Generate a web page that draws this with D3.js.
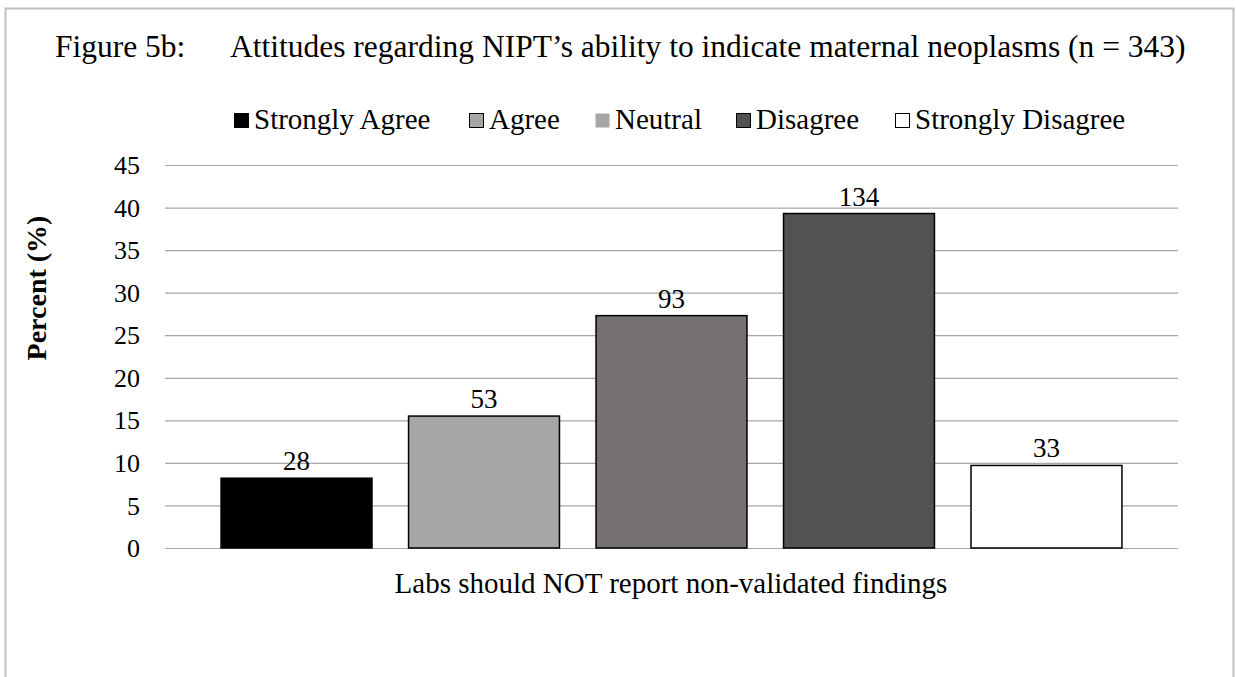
<!DOCTYPE html>
<html><head><meta charset="utf-8">
<script src="https://cdn.jsdelivr.net/npm/d3@7"></script>
<style>body{margin:0;background:#fff}svg{display:block;font-family:"Liberation Serif","Times New Roman",serif}</style>
</head><body>
<svg id="c" width="1236" height="677"></svg>
<script>
const categories = ["Strongly Agree","Agree","Neutral","Disagree","Strongly Disagree"];
const percents = [8.2, 15.5, 27.3, 39.3, 9.7];
const counts = [28, 53, 93, 134, 33];
const barColors = ["#000000","#A6A6A6","#767171","#525252","#FFFFFF"];
const legendColors = ["#000000","#A6A6A6","#A6A6A6","#525252","#FFFFFF"];
const yTicks = [0,5,10,15,20,25,30,35,40,45];
const groupLabel = "Labs should NOT report non-validated findings";
const titleLead = "Figure 5b:";
const titleMain = "Attitudes regarding NIPT\u2019s ability to indicate maternal neoplasms (n = 343)";

const svg = d3.select("#c");
svg.append("rect").attr("x",5.5).attr("y",8.5).attr("width",1228).attr("height",700)
  .attr("fill","none").attr("stroke","#BFBFBF").attr("stroke-width",2);

const L=165,R=1178,T=165,B=548;
const x = d3.scaleBand().domain(categories).range([L,R]).paddingInner(0.195).paddingOuter(0.299);
const y = d3.scaleLinear().domain([0,45]).range([B,T]);

svg.append("text").attr("x",55).attr("y",57).attr("font-size",31.5).text(titleLead);
svg.append("text").attr("x",230).attr("y",57).attr("font-size",31.5).text(titleMain);

// grid
const g = svg.append("g");
g.selectAll("line.grid").data(yTicks).join("line")
  .attr("x1",L).attr("x2",R).attr("y1",d=>y(d)+0.5).attr("y2",d=>y(d)+0.5)
  .attr("stroke","#A6A6A6").attr("stroke-width",1.2);
g.selectAll("text.tick").data(yTicks).join("text")
  .attr("x",140).attr("y",d=>y(d)).attr("dy","0.35em").attr("text-anchor","end")
  .attr("font-size",26).text(d=>d);

// bars
const data = categories.map((c,i)=>({c,p:percents[i],n:counts[i],col:barColors[i]}));
g.selectAll("rect.bar").data(data).join("rect")
  .attr("x",d=>x(d.c)).attr("width",x.bandwidth())
  .attr("y",d=>y(d.p)).attr("height",d=>y(0)-y(d.p))
  .attr("fill",d=>d.col).attr("stroke","#000").attr("stroke-width",1.5);
g.selectAll("text.lab").data(data).join("text")
  .attr("x",d=>x(d.c)+x.bandwidth()/2).attr("y",d=>y(d.p)-8)
  .attr("text-anchor","middle").attr("font-size",27).text(d=>d.n);

// axis labels
svg.append("text").attr("x",671).attr("y",593).attr("text-anchor","middle").attr("font-size",29).text(groupLabel);
svg.append("text").attr("transform","translate(46,288) rotate(-90)").attr("text-anchor","middle")
  .attr("font-size",28).attr("font-weight","bold").text("Percent (%)");

// legend
const legX = [234,469,595,736,895];
const leg = svg.append("g");
categories.forEach((c,i)=>{
  leg.append("rect").attr("x",legX[i]+0.5).attr("y",113.5).attr("width",14).attr("height",14)
    .attr("fill",legendColors[i]).attr("stroke", i===2?"none":"#000").attr("stroke-width",1);
  leg.append("text").attr("x",legX[i]+20).attr("y",129).attr("font-size",29).text(c);
});
</script>
</body></html>
